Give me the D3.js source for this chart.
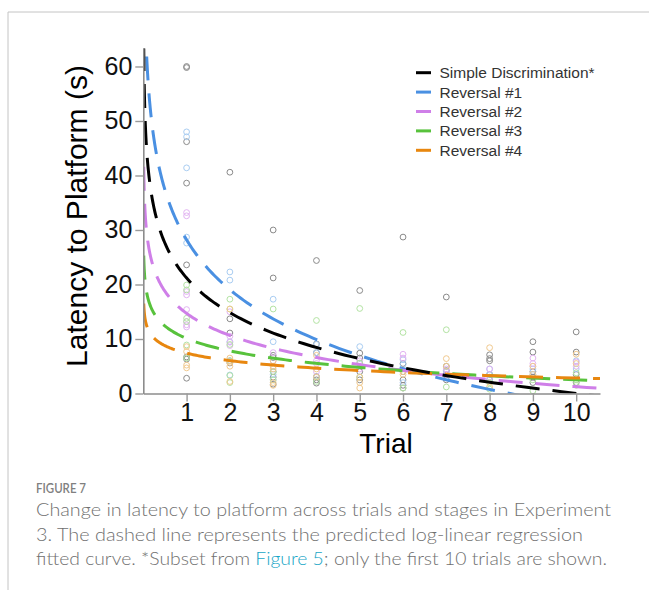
<!DOCTYPE html>
<html>
<head>
<meta charset="utf-8">
<script src="https://cdn.jsdelivr.net/npm/d3@7"></script>
<style>
body { margin: 0; background: #fff; }
</style>
</head>
<body>
<script>
// stages and styles
const stages = ["Simple Discrimination*", "Reversal #1", "Reversal #2", "Reversal #3", "Reversal #4"];
const lineColors = ["#000000", "#4a90e2", "#cf7fe8", "#58c23c", "#e8870f"];
const dotColors = ["#8a8a8a", "#a9cdf2", "#e2b3f2", "#b3e3a3", "#f1c98e"];

// fitted log-linear curves: latency = a + b * ln(trial)
const intercepts = [21.2, 28.2, 14.7, 10.1, 7.4];
const slopes = [-9.2, -13.2, -5.84, -3.3, -1.98];

const trials = [1, 2, 3, 4, 5, 6, 7, 8, 9, 10];
const yTicks = [0, 10, 20, 30, 40, 50, 60];

// observed latencies, one list per trial
const simplePts = [
  [60, 59.8, 46.2, 38.6, 23.6, 6.7, 6.3, 2.8],
  [40.6, 13.7, 11.1, 6.0, 5.6],
  [30, 21.2, 7.0, 6.6, 4.0, 3.0, 1.7],
  [24.4, 9.1, 7.5, 3.1, 2.5, 1.9],
  [18.9, 7.4, 6.5, 4.0, 2.5],
  [28.7, 5.5, 4.0, 2.5, 1.5, 1.0],
  [17.7, 5.0, 4.2, 3.5, 2.5],
  [7.1, 6.4, 6.0, 3.5, 2.5],
  [9.5, 7.6, 4.0, 3.0, 2.0],
  [11.3, 7.6, 3.5, 2.0]
];
const rev1Pts = [
  [48.0, 47.1, 41.4, 28.7, 27.6],
  [22.3, 20.8, 9.5, 3.4],
  [17.3, 9.5, 3.5, 2.5],
  [9.0, 7.5, 3.0],
  [8.6, 5.5, 3.0],
  [6.2, 5.3, 2.0],
  [4.0, 3.0],
  [4.5, 3.5, 2.5],
  [4.5, 3.5],
  [6.0, 4.5]
];
const rev2Pts = [
  [33.2, 32.6, 18.7, 18.1, 15.4, 13.2, 12.6, 12.2],
  [15.0, 10.5, 9.4, 8.8, 6.0],
  [7.5, 6.0, 5.0],
  [6.0, 5.5, 4.0],
  [6.0, 4.5],
  [7.2, 6.5],
  [4.5, 3.5],
  [4.5, 3.0],
  [6.5, 5.5, 5.0],
  [5.8, 5.0]
];
const rev3Pts = [
  [19.9, 19.0, 13.8, 13.2, 8.9, 6.5],
  [17.3, 15.5, 9.0, 6.0, 3.3, 2.0],
  [15.5, 4.0, 2.5],
  [13.4, 2.2],
  [15.6, 5.6, 3.0],
  [11.2, 1.0],
  [11.7, 1.2],
  [2.0, 0.8],
  [2.5, 0.5],
  [3.8, 2.5, 1.5]
];
const rev4Pts = [
  [8.6, 7.7, 5.2, 4.7],
  [15.5, 6.5, 5.7, 5.0, 2.2],
  [6.0, 5.0, 4.5, 2.0, 1.5],
  [7.0, 4.5, 3.0],
  [3.0, 2.0, 1.0],
  [4.0, 3.5],
  [6.4, 5.0],
  [8.4, 1.2],
  [5.0, 3.5],
  [7.2, 5.5]
];
const allPts = [simplePts, rev1Pts, rev2Pts, rev3Pts, rev4Pts];

const W = 649, H = 590;
const svg = d3.select("body").append("svg")
  .attr("width", W)
  .attr("height", H);

// frame
svg.append("line").attr("x1", 8).attr("y1", 12).attr("x2", W).attr("y2", 12)
  .attr("stroke", "#c4c4c4").attr("stroke-width", 1);
svg.append("line").attr("x1", 8).attr("y1", 12).attr("x2", 8).attr("y2", H)
  .attr("stroke", "#c4c4c4").attr("stroke-width", 1);

const x = d3.scaleLinear().domain([0, 10.55]).range([143.3, 600]);
const y = d3.scaleLinear().domain([0, 63.3]).range([393.5, 48.5]);

svg.append("clipPath").attr("id", "plotclip")
  .append("rect")
  .attr("x", x(0)).attr("y", y(63.3))
  .attr("width", x(10.55) - x(0)).attr("height", y(0) - y(63.3));

// points
const dots = svg.append("g");
allPts.forEach((stage, s) => {
  stage.forEach((vals, t) => {
    vals.forEach(v => {
      dots.append("circle")
        .attr("cx", x(trials[t]))
        .attr("cy", y(v))
        .attr("r", 2.9)
        .attr("fill", "none")
        .attr("stroke", dotColors[s])
        .attr("stroke-width", 1);
    });
  });
});

// fitted curves
const xs = d3.range(240).map(i => 0.01 * Math.pow(10.55 / 0.01, i / 239));
const curve = d3.line().x(d => x(d[0])).y(d => y(d[1]));
const lines = svg.append("g").attr("clip-path", "url(#plotclip)");
[1, 2, 3, 4, 0].forEach(s => {
  const pts = xs.map(t => [t, intercepts[s] + slopes[s] * Math.log(t)]);
  lines.append("path")
    .attr("d", curve(pts))
    .attr("fill", "none")
    .attr("stroke", lineColors[s])
    .attr("stroke-width", 3)
    .attr("stroke-dasharray", "24,13");
});

// axes
const yAxis = svg.append("g")
  .attr("transform", `translate(${x(0)},0)`)
  .call(d3.axisLeft(y).tickValues(yTicks).tickSize(8).tickSizeOuter(0).tickPadding(3));
const xAxis = svg.append("g")
  .attr("transform", `translate(0,${y(0)})`)
  .call(d3.axisBottom(x).tickValues(trials).tickSize(8).tickSizeOuter(0).tickPadding(2));
[yAxis, xAxis].forEach(g => {
  g.select(".domain").attr("stroke", "#8c8c8c").attr("stroke-width", 1.6);
  g.selectAll(".tick line").attr("stroke", "#9a9a9a").attr("stroke-width", 1.4);
  g.selectAll(".tick text")
    .attr("font-family", "Liberation Sans, Arial, sans-serif")
    .attr("font-size", 25)
    .attr("fill", "#111");
});

// axis titles
svg.append("text")
  .attr("transform", "translate(87,216) rotate(-90)")
  .attr("text-anchor", "middle")
  .attr("font-family", "Liberation Sans, Arial, sans-serif")
  .attr("font-size", 30)
  .attr("fill", "#000")
  .text("Latency to Platform (s)");
svg.append("text")
  .attr("x", 386).attr("y", 453)
  .attr("text-anchor", "middle")
  .attr("font-family", "Liberation Sans, Arial, sans-serif")
  .attr("font-size", 28)
  .attr("fill", "#000")
  .text("Trial");

// legend
const legend = svg.append("g");
stages.forEach((name, i) => {
  const ly = 72.7 + i * 19.4;
  legend.append("line")
    .attr("x1", 416).attr("x2", 431)
    .attr("y1", ly).attr("y2", ly)
    .attr("stroke", lineColors[i]).attr("stroke-width", 3);
  legend.append("text")
    .attr("x", 439.5).attr("y", ly + 5.5)
    .attr("font-family", "Liberation Sans, Arial, sans-serif")
    .attr("font-size", 15.5)
    .attr("fill", "#333")
    .text(name);
});

// caption
const capFont = "Lato, 'Open Sans', sans-serif";
svg.append("text")
  .attr("x", 36).attr("y", 493)
  .attr("font-family", capFont)
  .attr("font-size", 14)
  .attr("font-weight", 600)
  .attr("fill", "#808080")
  .attr("textLength", 50)
  .attr("lengthAdjust", "spacingAndGlyphs")
  .text("FIGURE 7");
const capLines = [
  "Change in latency to platform across trials and stages in Experiment",
  "3. The dashed line represents the predicted log-linear regression"
];
const capWidths = [575, 547];
capLines.forEach((t, i) => {
  svg.append("text")
    .attr("x", 36).attr("y", 516 + i * 24.5)
    .attr("font-family", capFont)
    .attr("font-size", 18)
    .attr("font-weight", 300)
    .attr("fill", "#707070")
    .attr("textLength", capWidths[i])
    .attr("lengthAdjust", "spacingAndGlyphs")
    .text(t);
});
const last = svg.append("text")
  .attr("x", 36).attr("y", 565)
  .attr("font-family", capFont)
  .attr("font-size", 18)
  .attr("font-weight", 300)
  .attr("fill", "#707070")
  .attr("textLength", 571)
  .attr("lengthAdjust", "spacingAndGlyphs");
last.append("tspan").text("fitted curve. *Subset from ");
last.append("tspan").attr("fill", "#17a5c6").text("Figure 5");
last.append("tspan").text("; only the first 10 trials are shown.");
</script>
</body>
</html>
